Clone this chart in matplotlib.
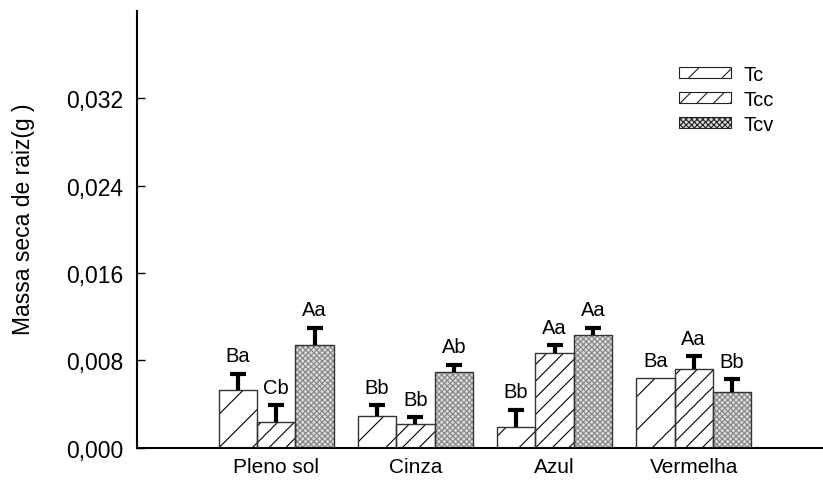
import matplotlib.pyplot as plt
import numpy as np
from matplotlib.patches import Patch
from matplotlib.ticker import FixedLocator, FuncFormatter

plt.rcParams["font.family"] = ["Liberation Sans", "DejaVu Sans"]
plt.rcParams["hatch.linewidth"] = 0.8

groups = ["Pleno sol", "Cinza", "Azul", "Vermelha"]
series = ["Tc", "Tcc", "Tcv"]

# mean root dry mass per treatment (g)
tc = [0.0053, 0.0029, 0.0019, 0.00635]
tcc = [0.0024, 0.0022, 0.0087, 0.0072]
tcv = [0.0094, 0.0069, 0.0103, 0.0051]

# upper error (g)
tc_err = [0.0015, 0.0010, 0.0016, 0.0]
tcc_err = [0.0015, 0.0006, 0.0007, 0.0012]
tcv_err = [0.0016, 0.0007, 0.0007, 0.0012]

# significance letters
tc_lbl = ["Ba", "Bb", "Bb", "Ba"]
tcc_lbl = ["Cb", "Bb", "Aa", "Aa"]
tcv_lbl = ["Aa", "Ab", "Aa", "Bb"]

yticks = [0.000, 0.008, 0.016, 0.024, 0.032]

styles = [
    dict(face="white", hatch="/", hcolor="black"),
    dict(face="white", hatch="//", hcolor="black"),
    dict(face="#dadada", hatch="xxxxxx", hcolor="#858585"),
]

fig = plt.figure(figsize=(8.23, 4.81), dpi=100)
ax = fig.add_axes([0.1665, 0.067, 0.832, 0.908])

x = np.arange(1, len(groups) + 1)
width = 0.276
values = [tc, tcc, tcv]
errors = [tc_err, tcc_err, tcv_err]
letters = [tc_lbl, tcc_lbl, tcv_lbl]

for i, (vals, errs, lbls, st) in enumerate(zip(values, errors, letters, styles)):
    pos = x + (i - 1) * width
    vals = np.array(vals)
    errs = np.array(errs)
    ax.bar(pos, vals, width, color=st["face"], hatch=st["hatch"],
           edgecolor=st["hcolor"], linewidth=0, zorder=2)
    ax.bar(pos, vals, width, fill=False, edgecolor="#333333",
           linewidth=1.0, zorder=3)
    mask = errs > 0
    _, caps, _ = ax.errorbar(pos[mask], vals[mask],
                             yerr=[np.zeros(mask.sum()), errs[mask]],
                             fmt="none", ecolor="black", elinewidth=3,
                             capsize=6, capthick=3, zorder=4)
    # only the upper half of each bar is shown
    caps[0].set_visible(False)
    for p, v, e, t in zip(pos, vals, errs, lbls):
        ax.annotate(t, (p, v + e), xytext=(0, 6), textcoords="offset points",
                    ha="center", va="bottom", fontsize=14.5)

ax.set_xlim(0, 4.92)
ax.set_ylim(0, 0.040)
ax.yaxis.set_major_locator(FixedLocator(yticks))
ax.yaxis.set_major_formatter(
    FuncFormatter(lambda v, p: f"{v:.3f}".replace(".", ",")))
ax.set_xticks(x)
ax.set_xticklabels(groups)
ax.tick_params(axis="y", direction="in", length=6, width=1, labelsize=16.5, pad=10)
ax.tick_params(axis="x", direction="in", length=4, width=1, labelsize=15, pad=6.5)
ax.set_ylabel("Massa seca de raiz(g )", fontsize=16.5)
ax.yaxis.set_label_coords(-0.149, 0.525)

for side in ("top", "right"):
    ax.spines[side].set_visible(False)
for side in ("left", "bottom"):
    ax.spines[side].set_linewidth(1.5)

handles = [Patch(facecolor=st["face"], hatch=st["hatch"], edgecolor="#222222",
                 linewidth=0.8) for st in styles]
ax.legend(handles, series, loc="upper left", bbox_to_anchor=(0.765, 0.919),
          frameon=False, fontsize=14.5, handlelength=2.6, handleheight=0.45,
          labelspacing=0.3, handletextpad=0.6, borderpad=0.4)

fig.savefig("out.png", dpi=100)
